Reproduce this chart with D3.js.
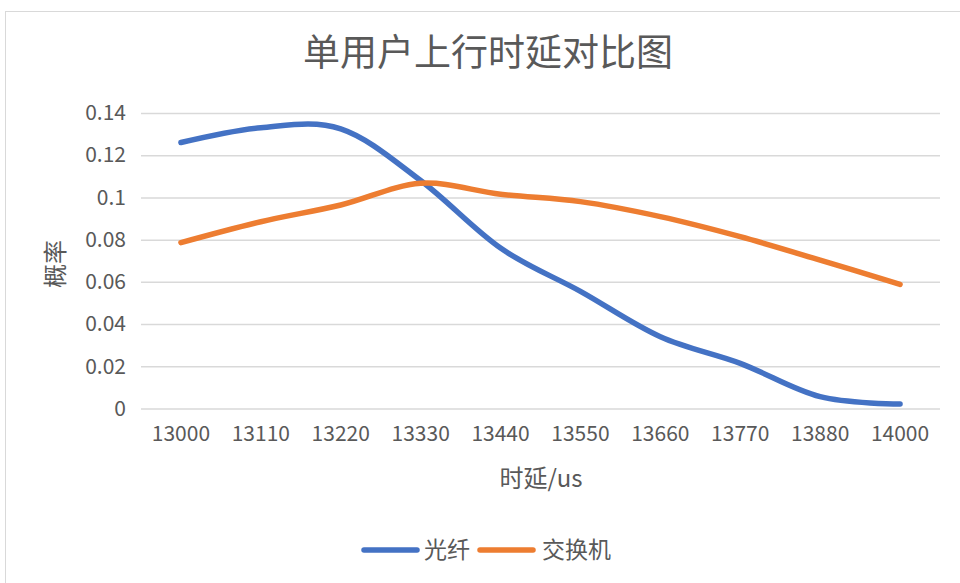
<!DOCTYPE html>
<html><head><meta charset="utf-8">
<script src="https://cdn.jsdelivr.net/npm/d3@7"></script>
<style>
body{margin:0;background:#fff;}
text{font-family:"Noto Sans CJK SC","Noto Sans",sans-serif;fill:#595959;}
</style></head>
<body><svg id="c" width="960" height="583"></svg>
<script>
const categories = ["13000","13110","13220","13330","13440","13550","13660","13770","13880","14000"];
const fiber = [0.126,0.133,0.1325,0.108,0.076,0.0555,0.034,0.0214,0.0056,0.0021];
const sw = [0.0786,0.0885,0.0964,0.1067,0.1015,0.098,0.0909,0.0814,0.0703,0.0588];
const yTicks = [0,0.02,0.04,0.06,0.08,0.1,0.12,0.14];
const seriesNames = ["光纤","交换机"];
const colors = ["#4472C4","#ED7D31"];

const svg = d3.select("#c");
svg.append("rect").attr("x",5.5).attr("y",11.5).attr("width",970).attr("height",600)
  .attr("fill","#fff").attr("stroke","#d9d9d9");

const x = d3.scaleBand().domain(categories).range([141,940]);
const y = d3.scaleLinear().domain([0,0.14]).range([408.5,113]);

const yAxis = svg.append("g").attr("transform","translate(141,0)")
  .call(d3.axisLeft(y).tickValues(yTicks).tickSize(-799).tickPadding(15).tickFormat(d=>d3.format("")(+d.toFixed(2))));
yAxis.select(".domain").remove();
yAxis.selectAll("line").attr("stroke","#d9d9d9").attr("stroke-width",1.5);
yAxis.selectAll("text").attr("font-size",21).attr("fill","#595959");

const xAxis = svg.append("g").attr("transform","translate(0,408.5)")
  .call(d3.axisBottom(x).tickSize(0).tickPadding(18));
xAxis.select(".domain").remove();
xAxis.selectAll("text").attr("font-size",21).attr("fill","#595959");

const line = d3.line().x((d,i)=>x(categories[i])+x.bandwidth()/2).y(d=>y(d)).curve(d3.curveCardinal.tension(0));
[fiber,sw].forEach((s,k)=>{
  svg.append("path").datum(s).attr("d",line).attr("fill","none")
    .attr("stroke",colors[k]).attr("stroke-width",5.5).attr("stroke-linecap","round").attr("stroke-linejoin","round");
});

svg.append("text").attr("x",488).attr("y",66).attr("text-anchor","middle").attr("font-size",37).text("单用户上行时延对比图");
svg.append("text").attr("x",541).attr("y",487).attr("text-anchor","middle").attr("font-size",24).text("时延/us");
svg.append("text").attr("transform","translate(64,264) rotate(-90)").attr("text-anchor","middle").attr("font-size",24).text("概率");

const lg = [{x0:364,tx:424},{x0:480,tx:542}];
seriesNames.forEach((n,k)=>{
  svg.append("line").attr("x1",lg[k].x0).attr("x2",lg[k].x0+53).attr("y1",550).attr("y2",550)
    .attr("stroke",colors[k]).attr("stroke-width",5.5).attr("stroke-linecap","round");
  svg.append("text").attr("x",lg[k].tx).attr("y",558).attr("font-size",23).text(n);
});
</script></body></html>
